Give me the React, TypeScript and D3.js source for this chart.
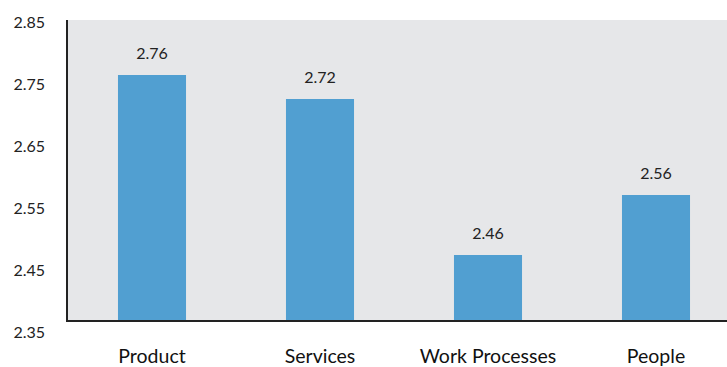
import React from "react";
import * as d3 from "d3";

const categories = ["Product", "Services", "Work Processes", "People"];
const values = [2.76, 2.72, 2.46, 2.56];
const tickValues = [2.35, 2.45, 2.55, 2.65, 2.75, 2.85];

export default function App() {
  const W = 727, H = 367;
  const left = 67, top = 21, bottom = 321;
  const x = d3.scaleBand<string>().domain(categories).range([68, 740]).paddingInner(0.595).paddingOuter(0.2975);
  const y = d3.scaleLinear().domain([2.35, 2.85]).range([bottom, top]);
  const yLabel = d3.scaleLinear().domain([2.35, 2.85]).range([332, 22]);
  const font = "Lato, 'Open Sans', sans-serif";
  return (
    <svg width={W} height={H} style={{ position: "absolute", left: 0, top: 0, display: "block" }}>
      <rect x={left} y={top - 1} width={W - left} height={bottom - top + 1} fill="#e6e7e9" />
      {categories.map((c, i) => (
        <g key={c}>
          <rect x={x(c)} y={y(values[i])} width={x.bandwidth()} height={bottom - y(values[i])} fill="#519fd1" />
          <text x={x(c)! + x.bandwidth() / 2} y={y(values[i]) - 16} textAnchor="middle" fontSize={16} fill="#222" fontFamily={font}>
            {values[i].toFixed(2)}
          </text>
          <text x={x(c)! + x.bandwidth() / 2} y={363} textAnchor="middle" fontSize={19.5} fill="#111" fontFamily={font}>
            {c}
          </text>
        </g>
      ))}
      {tickValues.map((t) => (
        <text key={t} x={45} y={yLabel(t)} dy="0.35em" textAnchor="end" fontSize={16} fill="#222" fontFamily={font}>
          {t.toFixed(2)}
        </text>
      ))}
      <line x1={left} x2={left} y1={top - 1} y2={bottom + 1} stroke="#222" strokeWidth={2} />
      <line x1={left - 1} x2={W} y1={bottom} y2={bottom} stroke="#222" strokeWidth={2} />
    </svg>
  );
}
